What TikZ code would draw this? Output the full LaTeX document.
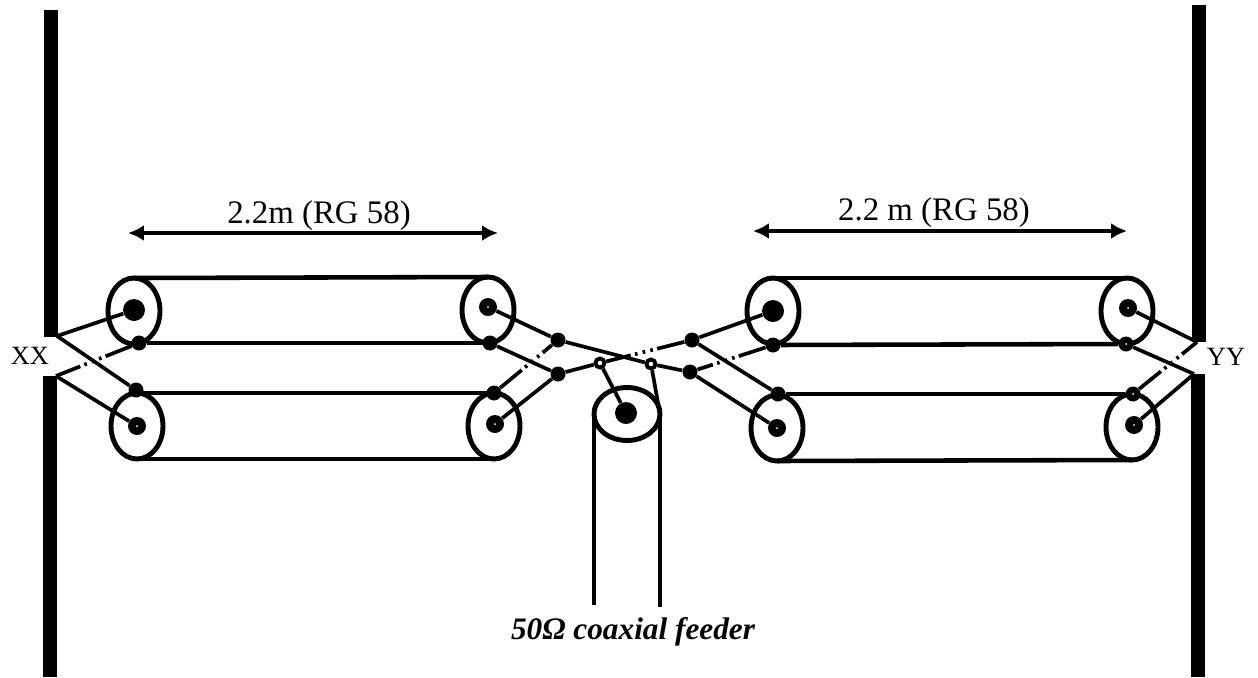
\documentclass[tikz,border=0pt]{standalone}
\usepackage{fontspec}
\setmainfont{Liberation Serif}
\usetikzlibrary{shapes.geometric,arrows.meta}
\tikzset{
	wire/.style={line width=2.1pt},
	brokenwire/.style={line width=2.1pt, dash pattern=on 16pt off 2.5pt on 1.5pt off 3pt on 1.5pt off 3pt on 1.5pt off 2.5pt on 40pt off 2pt},
	cablewall/.style={line width=2.6pt},
	mast/.style={line width=7.6pt},
	coaxend/.style={draw, ellipse, line width=2.8pt, inner sep=0, outer sep=0, minimum width=1.04cm, minimum height=1.32cm},
	feederend/.style={draw, ellipse, line width=2.8pt, inner sep=0, outer sep=0, minimum width=1.32cm, minimum height=1.06cm},
	coredot/.style={circle, fill=black, inner sep=0, minimum size=0.36cm},
	bigdot/.style={circle, fill=black, inner sep=0, minimum size=0.44cm},
	braid/.style={circle, fill=black, inner sep=0, minimum size=0.3cm},
	joint/.style={circle, fill=black, inner sep=0, minimum size=0.3cm},
	tap/.style={circle, draw, fill=white, line width=2.2pt, inner sep=0, minimum size=0.18cm},
	span/.style={{Latex[length=9pt,width=9pt]}-{Latex[length=9pt,width=9pt]}, line width=2.6pt},
	lengthlabel/.style={font=\fontsize{18.7}{22}\selectfont, inner sep=0},
	endlabel/.style={font=\fontsize{15}{18}\selectfont, inner sep=0},
}
\begin{document}
\begin{tikzpicture}[x=0.02cm, y=-0.02cm]
	\useasboundingbox (0, 0) rectangle (1258, 677);
	
	%%%%% masts %%%%%
	\coordinate (xxtop) at (57, 336);
	\coordinate (xxbot) at (56, 376);
	\coordinate (yytop) at (1197, 342);
	\coordinate (yybot) at (1194, 374);
	\draw[mast] (51, 10) -- (51, 337);
	\draw[mast] (50, 376) -- (50, 677);
	\draw[mast] (1199, 5) -- (1199, 342);
	\draw[mast] (1198, 374) -- (1198, 677);
	
	%%%%% coax ends %%%%%
	\node[coaxend] (la) at (134, 311) {};
	\node[coaxend] (lb) at (137, 426) {};
	\node[coaxend] (ma) at (488, 310) {};
	\node[coaxend] (mb) at (494, 426) {};
	\node[coaxend] (na) at (773, 311) {};
	\node[coaxend] (nb) at (777, 428) {};
	\node[coaxend] (ra) at (1127, 311) {};
	\node[coaxend] (rb) at (1132, 427) {};
	\node[feederend] (feed) at (627, 414) {};
	
	%%%%% core and braid dots %%%%%
	\node[bigdot] (laC) at (134, 310) {};
	\node[braid] (laB) at (139, 343) {};
	\node[braid] (lbB) at (136, 390) {};
	\node[coredot] (lbC) at (137, 426) {};
	\node[coredot] (maC) at (488, 307) {};
	\node[braid] (maB) at (490, 343) {};
	\node[braid] (mbB) at (494, 393) {};
	\node[coredot] (mbC) at (495, 424) {};
	\node[bigdot] (naC) at (773, 311) {};
	\node[braid] (naB) at (773, 345) {};
	\node[braid] (nbB) at (778, 394) {};
	\node[coredot] (nbC) at (777, 428) {};
	\node[coredot] (raC) at (1128, 308) {};
	\node[braid] (raB) at (1126, 344) {};
	\node[braid] (rbB) at (1133, 394) {};
	\node[coredot] (rbC) at (1134, 425) {};
	\node[bigdot] (feedC) at (626, 413) {};
	
	%%%%% centre joints %%%%%
	\node[joint] (jla) at (558, 340) {};
	\node[joint] (jlb) at (558, 374) {};
	\node[joint] (jra) at (692, 340) {};
	\node[joint] (jrb) at (690, 372) {};
	\node[tap] (tapl) at (600, 363) {};
	\node[tap] (tapr) at (651, 364) {};
	
	%%%%% cable walls %%%%%
	\draw[cablewall] (la.north) -- (ma.north);
	\draw[cablewall] (laB) -- (maB);
	\draw[cablewall] (lb.north) -- (mb.north);
	\draw[cablewall] (lb.south) -- (mb.south);
	\draw[cablewall] (na.north) -- (ra.north);
	\draw[cablewall] (naB) -- (raB);
	\draw[cablewall] (nbB) -- (rbB);
	\draw[cablewall] (nb.south) -- (rb.south);
	\draw[cablewall] (feed.west) -- ++(0, 191);
	\draw[cablewall] (feed.east) -- ++(0, 193);
	
	%%%%% left feed point %%%%%
	\draw[wire] (xxtop) -- (laC);
	\draw[wire] (xxtop) -- (lbB);
	\draw[wire] (xxbot) -- (lbC);
	\draw[brokenwire] (laB) -- (xxbot);
	
	%%%%% right feed point %%%%%
	\draw[wire] (yytop) -- (raC);
	\draw[wire] (yybot) -- (raB);
	\draw[wire] (yybot) -- (rbC);
	\draw[brokenwire] (rbB) -- (yytop);
	
	%%%%% centre %%%%%
	\draw[wire] (maC) -- (jla);
	\draw[wire] (maB) -- (jlb);
	\draw[wire] (mbC) -- (jlb);
	\draw[brokenwire] (mbB) -- (jla);
	\draw[wire] (naC) -- (jra);
	\draw[wire] (nbB) -- (jra);
	\draw[wire] (nbC) -- (jrb);
	\draw[brokenwire] (naB) -- (jrb);
	\draw[wire] (jla) -- (tapr);
	\draw[wire] (jlb) -- (tapl);
	\draw[wire] (jrb) -- (tapr);
	\draw[brokenwire] (jra) -- (tapl);
	\draw[wire] (tapl) -- (feedC);
	\draw[wire] (tapr) -- (feed.east);
	
	%%%%% pin holes %%%%%
	\foreach \dotname in {lbC, maC, mbC, nbC, raC, rbC, raB, rbB}
		\fill[white] (\dotname) circle (1);
	
	%%%%% lengths and labels %%%%%
	\coordinate (sl) at (128, 233);
	\coordinate (sr) at (498, 233);
	\coordinate (tl) at (753, 231);
	\coordinate (tr) at (1127, 231);
	\draw[span] (sl) -- (sr);
	\draw[span] (tl) -- (tr);
	\node[lengthlabel] (leftlen) at (319, 216) {2.2m (RG 58)};
	\node[lengthlabel] (rightlen) at (934, 213) {2.2 m (RG 58)};
	\node[endlabel] (xx) at (30, 356) {XX};
	\node[endlabel] (yy) at (1226, 357) {YY};
	\node[lengthlabel, font=\fontsize{17.8}{22}\selectfont\bfseries\itshape] (feedlabel) at (633, 632) {50Ω coaxial feeder};
\end{tikzpicture}
\end{document}
